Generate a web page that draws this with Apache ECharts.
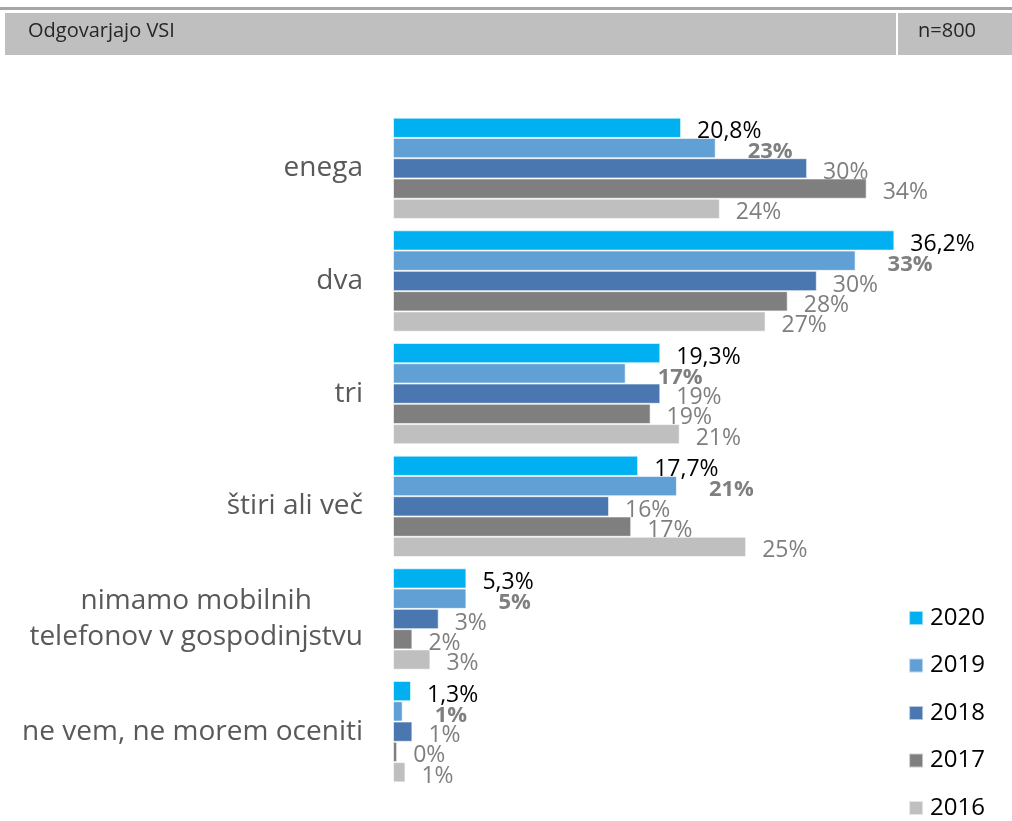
<!DOCTYPE html>
<html>
<head>
<meta charset="utf-8">
<script src="https://cdn.jsdelivr.net/npm/echarts@6/dist/echarts.min.js"></script>
<style>
html, body { margin: 0; padding: 0; background: #fff; }
#chart { width: 1012px; height: 821px; }
</style>
</head>
<body>
<div id="chart"></div>
<script>
var categories = ['enega', 'dva', 'tri', 'štiri ali več', 'nimamo mobilnih\ntelefonov v gospodinjstvu', 'ne vem, ne morem oceniti'];
var years = ['2020', '2019', '2018', '2017', '2016'];
var colors = ['#00b0f0', '#61a0d5', '#4a77af', '#7f7f7f', '#bfbfbf'];

// bar lengths
var v2020 = [20.8, 36.2, 19.3, 17.7, 5.3, 1.3];
var v2019 = [23.3, 33.4, 16.8, 20.5, 5.3, 0.7];
var v2018 = [29.9, 30.6, 19.3, 15.6, 3.3, 1.4];
var v2017 = [34.2, 28.5, 18.6, 17.2, 1.4, 0.3];
var v2016 = [23.6, 26.9, 20.7, 25.5, 2.7, 0.9];

// printed labels
var l2020 = ['20,8%', '36,2%', '19,3%', '17,7%', '5,3%', '1,3%'];
var l2019 = ['23%', '33%', '17%', '21%', '5%', '1%'];
var l2018 = ['30%', '30%', '19%', '16%', '3%', '1%'];
var l2017 = ['34%', '28%', '19%', '17%', '2%', '0%'];
var l2016 = ['24%', '27%', '21%', '25%', '3%', '1%'];

var values = [v2020, v2019, v2018, v2017, v2016];
var labels = [l2020, l2019, l2018, l2017, l2016];

var myChart = echarts.init(document.getElementById('chart'));

var series = years.map(function (y, i) {
    return {
        name: y,
        type: 'bar',
        data: values[i],
        barGap: '0%',
        barCategoryGap: '10%',
        itemStyle: { color: colors[i], borderColor: 'rgba(255,255,255,0.6)', borderWidth: 1 },
        label: {
            show: true,
            position: 'right',
            distance: i === 1 ? 32 : 16,
            offset: [0, 4],
            fontFamily: 'Open Sans',
            fontSize: i === 1 ? 22 : 23,
            fontWeight: i === 1 ? 'bold' : 'normal',
            color: i === 0 ? '#000' : '#7f7f7f',
            formatter: function (p) { return labels[i][p.dataIndex]; }
        }
    };
});

var option = {
    animation: false,
    textStyle: { fontFamily: 'Open Sans' },
    graphic: [
        { type: 'rect', shape: { x: 0, y: 7, width: 1012, height: 3 }, style: { fill: '#a6a6a6' } },
        { type: 'rect', shape: { x: 5, y: 13, width: 1007, height: 42 }, style: { fill: '#bfbfbf' } },
        { type: 'rect', shape: { x: 896, y: 13, width: 2, height: 42 }, style: { fill: '#fff' } },
        { type: 'text', left: 28, top: 21, style: { text: 'Odgovarjajo VSI', font: '20px "Open Sans"', fill: '#262626' } },
        { type: 'text', left: 918, top: 21, style: { text: 'n=800', font: '20px "Open Sans"', fill: '#262626' } }
    ],
    grid: { left: 393, top: 112, width: 554, height: 676 },
    legend: {
        orient: 'vertical',
        right: 27,
        top: 606,
        padding: 0,
        itemWidth: 14,
        itemHeight: 14,
        itemGap: 23.5,
        icon: 'rect',
        data: years,
        textStyle: { fontFamily: 'Open Sans', fontSize: 24, color: '#000', padding: [0, 0, 0, 2] }
    },
    xAxis: { type: 'value', min: 0, max: 40, show: false },
    yAxis: {
        type: 'category',
        inverse: true,
        data: categories,
        axisLine: { show: false },
        axisTick: { show: false },
        axisLabel: {
            margin: 30,
            fontFamily: 'Open Sans',
            fontSize: 28,
            color: '#595959',
            lineHeight: 36,
            formatter: function (v) {
                return v.split('\n').map(function (s) { return '{c|' + s + '}'; }).join('\n');
            },
            rich: { c: { align: 'center', fontFamily: 'Open Sans', fontSize: 28, color: '#595959', lineHeight: 36 } }
        }
    },
    series: series
};

myChart.setOption(option);
</script>
</body>
</html>
